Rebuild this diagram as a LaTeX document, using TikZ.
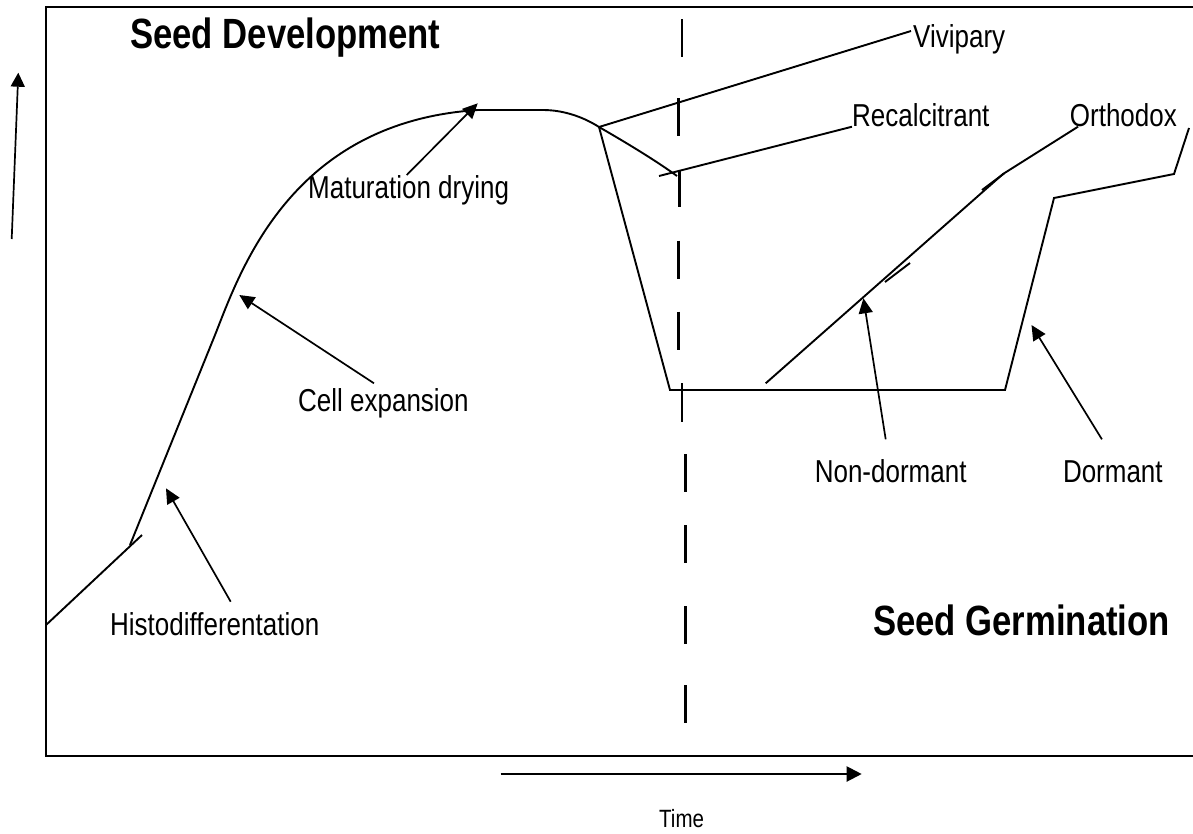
\documentclass[tikz,border=0pt]{standalone}
\usepackage{fontspec}
\setmainfont{Liberation Sans}[FakeStretch=0.82]
\usetikzlibrary{arrows.meta}
\begin{document}
\begin{tikzpicture}[x=1pt,y=-1pt,
  frame/.style={line width=2.7pt},
  curve/.style={line width=1.9pt, line join=miter},
  dashseg/.style={line width=2.7pt},
  pointer/.style={line width=1.7pt,-{Triangle[length=15pt,width=14pt]}},
  lbl/.style={inner sep=0pt, anchor=base west, font=\fontsize{31.7}{36}\selectfont},
  ttl/.style={inner sep=0pt, anchor=base west, font=\fontsize{42.3}{48}\selectfont\bfseries},
  small/.style={inner sep=0pt, anchor=base west, font=\fontsize{25}{30}\selectfont},
  ]
\useasboundingbox (0,0) rectangle (1193,833);

% frame (right side lies beyond the picture)
\draw[frame] (1193,7) -- (46,7) -- (46,756) -- (1193,756);

% axis arrows
\coordinate (yA) at (11.7,239);
\coordinate (yB) at (18.3,72.7);
\draw[line width=1.7pt,-{Triangle[length=14pt,width=14pt]}] (yA) -- (yB);
\coordinate (tA) at (500.7,774);
\coordinate (tB) at (861.7,774);
\draw[line width=2.1pt,-{Triangle[length=15pt,width=15pt]}] (tA) -- (tB);

% labels
\node[ttl] (sd) at (130,48) {Seed Development};
\node[ttl] (sg) at (873,635) {Seed Germination};
\node[lbl] (mat) at (308,198) {Maturation drying};
\node[lbl] (cell) at (298,411.5) {Cell expansion};
\node[lbl] (histo) at (110,635) {Histodifferentation};
\node[lbl] (viv) at (913,47.7) {Vivipary};
\node[lbl] (rec) at (852,126.7) {Recalcitrant};
\node[lbl] (orth) at (1069.7,126.7) {Orthodox};
\node[lbl] (nond) at (814.6,482.7) {Non-dormant};
\node[lbl] (dorm) at (1062.8,482.7) {Dormant};
\node[small] (time) at (659,827) {Time};

% key points of the curves
\coordinate (j) at (599,127);
\coordinate (vivEnd) at (911,31);
\coordinate (recA) at (659,176);
\coordinate (recEnd) at (852,126.7);
\coordinate (orthA) at (765.7,383.3);
\coordinate (orthB) at (1003,174);
\coordinate (orthEnd) at (1078,126.7);

% seed development curve
\draw[curve] (46,625) -- (142,535);
\draw[curve] (130,545) -- (215,335)
  .. controls (240,272) and (290,122) .. (478,110) -- (543,110)
  .. controls (565,110) and (585,118) .. (j)
  .. controls (625,142) and (655,160) .. (677,176);

% branches after maturation
\draw[curve] (j) -- (vivEnd);
\draw[curve] (recA) -- (recEnd);
\draw[curve] (j) -- (670,390) -- (1005,390) -- (1054,198) -- (1174,174) -- (1189,128);
\draw[curve] (orthA) -- (orthB) -- (orthEnd);
\draw[curve] (982,190) -- (1004,173.5);
\draw[curve] (885,282) -- (910,263);

% dashed divider
\foreach \xx/\ya/\yb in {682/19/57, 678.3/98.3/136, 679.3/170/206.7, 678.3/240.7/279.3,
  678.3/311.7/350, 682/383.3/421.7, 685.3/454/492.3, 685.3/525/563.3,
  685.3/606/644.3, 685.3/685/723.3}
  \draw[dashseg] (\xx,\ya) -- (\xx,\yb);

% pointers
\coordinate (matT) at (477.7,103.3);
\coordinate (matS) at (406.7,175);
\draw[pointer] (matS) -- (matT);
\coordinate (cellT) at (239.3,295);
\coordinate (cellS) at (374,383.3);
\draw[pointer] (cellS) -- (cellT);
\coordinate (histoT) at (166,488.3);
\coordinate (histoS) at (230.7,601.7);
\draw[pointer] (histoS) -- (histoT);
\coordinate (nondT) at (863.4,298.3);
\coordinate (nondS) at (885.7,439.3);
\draw[pointer] (nondS) -- (nondT);
\coordinate (dormT) at (1031.5,325);
\coordinate (dormS) at (1101.9,439.3);
\draw[pointer] (dormS) -- (dormT);
\end{tikzpicture}
\end{document}
